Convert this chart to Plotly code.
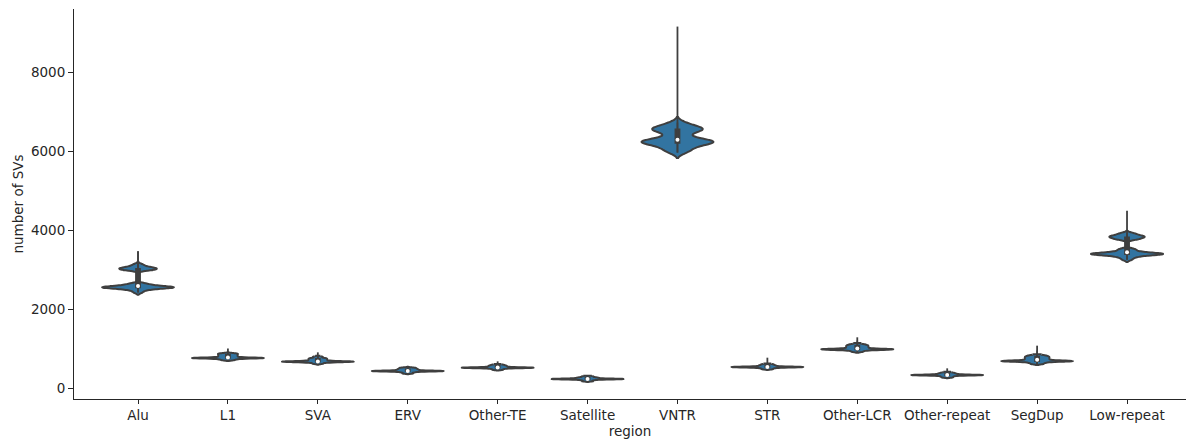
import numpy as np
import plotly.graph_objects as go

categories = ["Alu", "L1", "SVA", "ERV", "Other-TE", "Satellite", "VNTR",
              "STR", "Other-LCR", "Other-repeat", "SegDup", "Low-repeat"]

alu = [2420, 2470, 2500, 2520, 2530, 2540, 2545, 2548, 2550, 2552, 2555, 2560, 2570,
       2585, 2610, 2620, 2650, 2980, 2990, 3005, 3020, 3030, 3040, 3055, 3085, 3130, 3460]
l1 = [705, 725, 740, 752, 756, 758, 760, 760, 762, 764, 775, 790, 805, 820, 835, 850,
      865, 878, 940, 1000]
sva = [615, 640, 655, 662, 665, 667, 668, 669, 671, 674, 685, 700, 715, 730, 745, 760,
       790, 830, 903]
erv = [370, 395, 412, 422, 426, 428, 430, 431, 433, 436, 448, 460, 472, 485, 500, 515, 565]
other_te = [462, 485, 500, 508, 511, 513, 514, 515, 517, 520, 532, 545, 558, 572, 590,
            620, 675]
satellite = [172, 195, 212, 220, 224, 226, 228, 229, 231, 234, 242, 252, 262, 275, 295, 321]
vntr = [5960, 6010, 6060, 6100, 6140, 6175, 6200, 6215, 6228, 6236, 6244, 6255, 6270,
        6295, 6340, 6410, 6470, 6510, 6535, 6550, 6565, 6585, 6615, 6660, 6720, 9150]
strs = [478, 500, 515, 524, 528, 530, 532, 533, 535, 538, 550, 565, 580, 600, 630, 680, 768]
other_lcr = [918, 945, 962, 972, 976, 978, 980, 981, 983, 986, 1000, 1015, 1030, 1045,
             1060, 1075, 1090, 1110, 1150, 1200, 1284]
other_repeat = [268, 290, 310, 320, 324, 326, 328, 329, 331, 334, 345, 358, 372, 390, 420, 498]
segdup = [608, 635, 655, 670, 676, 680, 682, 684, 686, 690, 705, 720, 735, 750, 765, 780,
          795, 810, 830, 870, 950, 1072]
low_repeat = [3250, 3300, 3330, 3355, 3370, 3380, 3388, 3392, 3395, 3398, 3403, 3410, 3420,
              3435, 3460, 3500, 3520, 3760, 3770, 3800, 3820, 3830, 3840, 3860, 3890, 3920, 4490]

series = [alu, l1, sva, erv, other_te, satellite, vntr, strs, other_lcr, other_repeat,
          segdup, low_repeat]
bandwidths = [30, 12, 12, 10, 10, 9, 70, 10, 14, 10, 14, 30]

y_ticks = [0, 2000, 4000, 6000, 8000]

FILL = "#3274a1"
GRAY = "#3f3f3f"
TXT = "#262626"
FONT = "DejaVu Sans"


def density_span(vals, bw):
    """KDE span: from min-2bw up to the last non-isolated value + 2bw
    (isolated upper values are shown by the whisker line only)."""
    s = sorted(vals)
    top = len(s) - 1
    while top > 0 and s[top] - s[top - 1] > 2.5 * bw:
        top -= 1
    return [s[0] - 2 * bw, s[top] + 2 * bw]


fig = go.Figure()
for name, vals, bw in zip(categories, series, bandwidths):
    fig.add_trace(go.Violin(
        x=[name] * len(vals), y=vals, name=name,
        bandwidth=bw, width=0.8, scalemode="width",
        spanmode="manual", span=density_span(vals, bw),
        fillcolor=FILL, opacity=1,
        line=dict(color=GRAY, width=2),
        points=False,
        box=dict(visible=True, width=0.06, fillcolor=GRAY,
                 line=dict(color=GRAY, width=1.5)),
        meanline=dict(visible=False),
        hoverinfo="skip", showlegend=False,
    ))

# whisker lines from the minimum to the maximum of each sample
for name, vals in zip(categories, series):
    fig.add_trace(go.Scatter(
        x=[name, name], y=[float(np.min(vals)), float(np.max(vals))],
        mode="lines", line=dict(color=GRAY, width=1.8),
        hoverinfo="skip", showlegend=False,
    ))

fig.add_trace(go.Scatter(
    x=categories, y=[float(np.median(v)) for v in series],
    mode="markers", marker=dict(color="white", size=4, line=dict(width=0)),
    hoverinfo="skip", showlegend=False,
))

fig.update_layout(
    width=1186, height=442,
    margin=dict(l=74, r=0, t=9, b=43),
    paper_bgcolor="white", plot_bgcolor="white",
    violinmode="overlay",
    font=dict(family=FONT, size=13.5, color=TXT),
    xaxis=dict(
        type="category", categoryorder="array", categoryarray=categories,
        range=[-0.712, 11.656],
        showline=True, linecolor=TXT, linewidth=1,
        ticks="outside", ticklen=4, tickwidth=1, tickcolor=TXT,
        showgrid=False, zeroline=False,
        title=dict(text="region", standoff=4, font=dict(size=13.5, color=TXT)),
        tickfont=dict(size=13.5, color=TXT),
    ),
    yaxis=dict(
        range=[-278, 9595],
        tickvals=y_ticks, ticktext=[str(t) for t in y_ticks],
        showline=True, linecolor=TXT, linewidth=1,
        ticks="outside", ticklen=5, tickwidth=1, tickcolor=TXT,
        showgrid=False, zeroline=False,
        title=dict(text="number of SVs", standoff=4, font=dict(size=13.5, color=TXT)),
        tickfont=dict(size=13.5, color=TXT),
    ),
)

fig.write_html("out.html")
